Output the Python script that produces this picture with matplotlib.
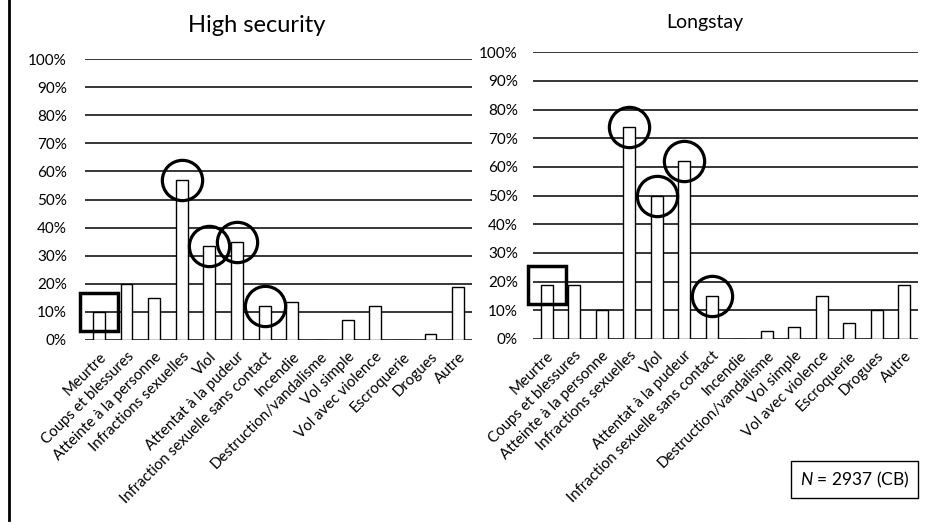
import numpy as np
import matplotlib
matplotlib.use('Agg')
import matplotlib.pyplot as plt
from matplotlib.lines import Line2D

plt.rcParams['font.family'] = ['Lato', 'DejaVu Sans']
plt.rcParams['mathtext.fontset'] = 'custom'
plt.rcParams['mathtext.it'] = 'Lato:italic'
plt.rcParams['mathtext.rm'] = 'Lato'

# DATA
categories = ['Meurtre', 'Coups et blessures', 'Atteinte à la personne',
              'Infractions sexuelles', 'Viol', 'Attentat à la pudeur',
              'Infraction sexuelle sans contact', 'Incendie',
              'Destruction/vandalisme', 'Vol simple', 'Vol avec violence',
              'Escroquerie', 'Drogues', 'Autre']
high_security = [10, 20, 15, 57, 33.5, 35, 12, 13.6, 0, 7, 12, 0, 2, 18.7]
longstay = [19, 19, 10, 74, 50, 62, 15, 0, 2.8, 4.3, 15, 5.5, 10, 19]
yticks = np.arange(0, 101, 10)

# highlighted categories: circles, and a square on Meurtre
circled = ['Infractions sexuelles', 'Viol', 'Attentat à la pudeur',
           'Infraction sexuelle sans contact']
boxed = ['Meurtre']

fig = plt.figure(figsize=(9.52, 5.25), dpi=100)

# title, values, axes rect, title size, title x, title y, ytick pad
panels = [
    ('High security', high_security, [0.0893, 0.3524, 0.4065, 0.5352],
     17, 0.270, 0.952, 13),
    ('Longstay', longstay, [0.5599, 0.3543, 0.4044, 0.5461],
     14, 0.7405, 0.958, 11),
]

x = np.arange(len(categories))
for title, vals, rect, tsize, tx, ty, ypad in panels:
    ax = fig.add_axes(rect)
    for yv in yticks:
        ax.axhline(yv, color='black', lw=1.1, zorder=1)
    ax.bar(x, vals, width=0.43, color='white', edgecolor='black',
           linewidth=1.0, zorder=2)
    ax.set_xlim(-0.5, len(categories) - 0.5)
    ax.set_ylim(0, 100)
    ax.set_yticks(yticks)
    ax.set_yticklabels([f'{v}%' for v in yticks], fontsize=11)
    ax.set_xticks(x)
    ax.set_xticklabels(categories, rotation=45, ha='right',
                       rotation_mode='anchor', fontsize=10.8)
    ax.tick_params(axis='both', length=0)
    ax.tick_params(axis='y', pad=ypad)
    ax.tick_params(axis='x', pad=7)
    for s in ax.spines.values():
        s.set_visible(False)

    ci = [categories.index(c) for c in circled]
    ax.plot(ci, [vals[i] for i in ci], linestyle='none', marker='o',
            ms=29, mfc='none', mec='black', mew=2.3, zorder=3, clip_on=False)
    bi = [categories.index(c) for c in boxed]
    ax.plot(bi, [vals[i] for i in bi], linestyle='none', marker='s',
            ms=27, mfc='none', mec='black', mew=2.5, zorder=3, clip_on=False)

    fig.text(tx, ty, title, ha='center', va='center', fontsize=tsize)

fig.text(0.8976, 0.0867, r'$N$ = 2937 (CB)', ha='center', va='center',
         fontsize=12.5,
         bbox=dict(boxstyle='square,pad=0.5', fc='white', ec='black', lw=1.0))

fig.add_artist(Line2D([0.0095, 0.0095], [0.0095, 1.0], color='black', lw=2.0,
                      transform=fig.transFigure))

fig.savefig('out.png', dpi=100)
